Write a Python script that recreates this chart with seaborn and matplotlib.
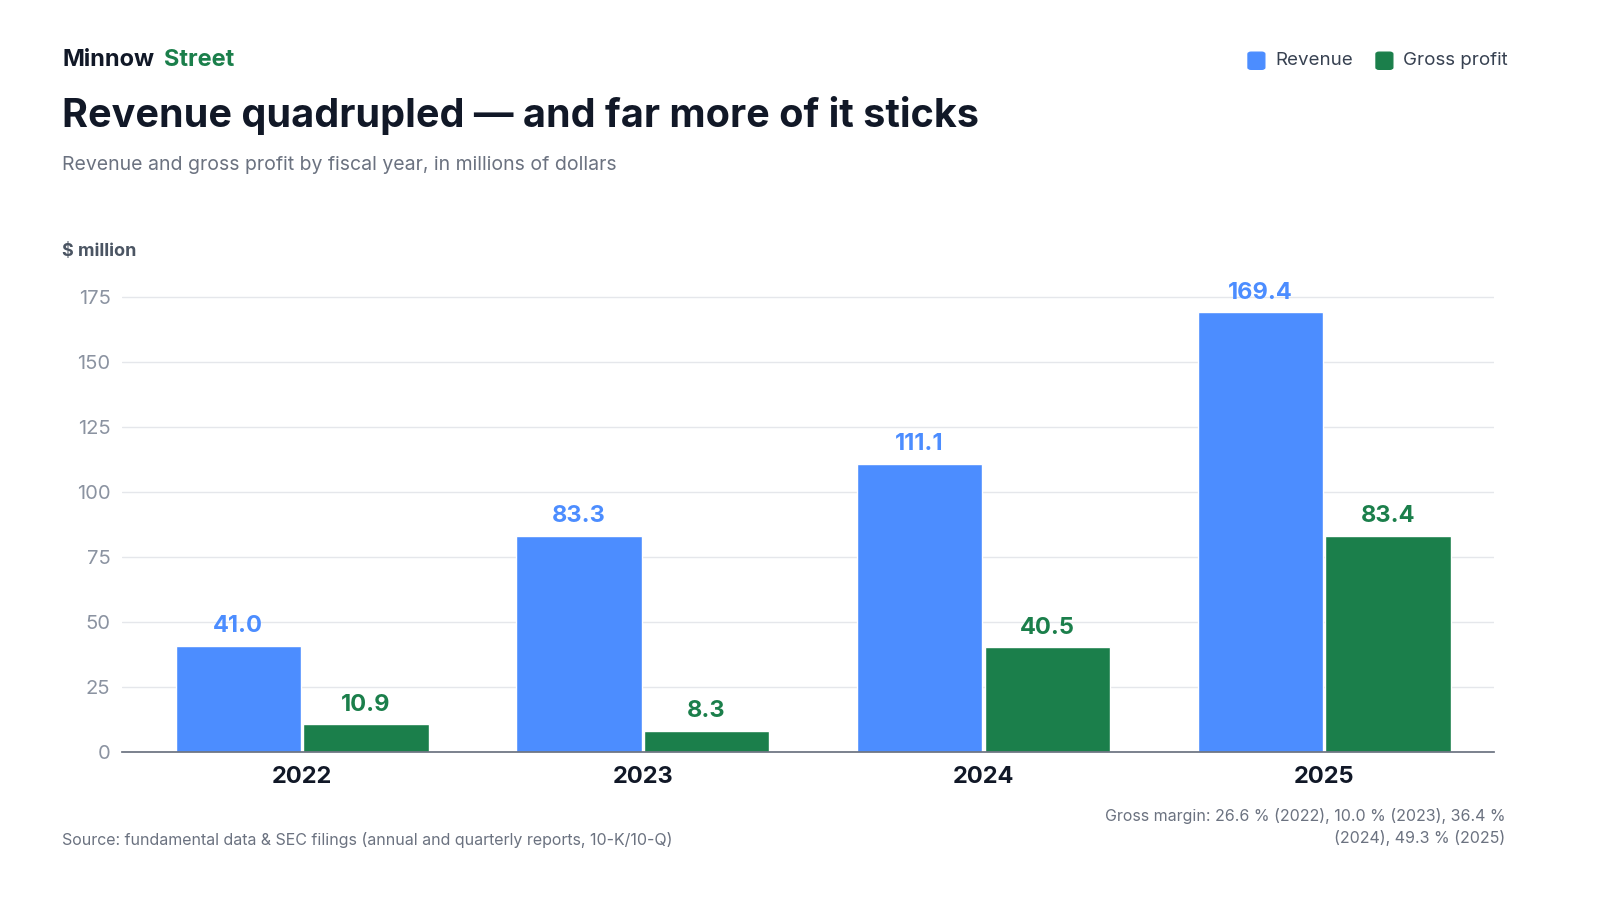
import matplotlib.pyplot as plt
import pandas as pd
import seaborn as sns
from matplotlib.patches import FancyBboxPatch

years = ["2022", "2023", "2024", "2025"]
revenue = [41.0, 83.3, 111.1, 169.4]
gross_profit = [10.9, 8.3, 40.5, 83.4]
margins = [26.6, 10.0, 36.4, 49.3]

BLUE = "#4C8DFF"
GREEN = "#1B7F4B"
DARK = "#111827"
GREY = "#6B7280"

df = pd.DataFrame({
    "year": years * 2,
    "value": revenue + gross_profit,
    "series": ["Revenue"] * 4 + ["Gross profit"] * 4,
})

sns.set_theme(style="white")
plt.rcParams["font.family"] = ["Inter", "DejaVu Sans"]

fig = plt.figure(figsize=(16, 9), dpi=100)
ax = fig.add_axes([0.076, 0.164, 0.858, 0.52])
sns.barplot(data=df, x="year", y="value", hue="series",
            palette={"Revenue": BLUE, "Gross profit": GREEN},
            width=0.75, gap=0.02, saturation=1, legend=False, ax=ax)

for cont, col in zip(ax.containers, [BLUE, GREEN]):
    ax.bar_label(cont, fmt="%.1f", padding=6, color=col,
                 fontsize=17, fontweight="bold")

ax.set_ylim(0, 180)
ax.set_xlim(-0.53, 3.5)
ax.set_yticks(range(0, 176, 25))
ax.grid(axis="y", color="#E5E7EB", lw=1)
ax.set_axisbelow(True)
for s in ["top", "right", "left"]:
    ax.spines[s].set_visible(False)
ax.spines["bottom"].set_color("#6B7280")
ax.tick_params(axis="y", labelsize=14.5, labelcolor="#8B93A1", length=0, pad=8)
ax.tick_params(axis="x", labelsize=17, length=0, pad=10)
for t in ax.get_xticklabels():
    t.set_fontweight("bold")
    t.set_color(DARK)
ax.set_xlabel("")
ax.set_ylabel("")

fig.text(0.039, 0.933, "Minnow", fontsize=17, fontweight="bold", color=DARK, va="center")
fig.text(0.1025, 0.933, "Street", fontsize=17, fontweight="bold", color=GREEN, va="center")
fig.text(0.039, 0.872, "Revenue quadrupled — and far more of it sticks",
         fontsize=28.5, fontweight="bold", color=DARK, va="center")
fig.text(0.039, 0.817, "Revenue and gross profit by fiscal year, in millions of dollars",
         fontsize=14, color=GREY, va="center")
fig.text(0.039, 0.72, "$ million", fontsize=13, fontweight="bold", color="#4B5563", va="center")

# legend
for x, lab, col in [(0.780, "Revenue", BLUE), (0.860, "Gross profit", GREEN)]:
    fig.patches.append(FancyBboxPatch((x, 0.923), 0.0105, 0.019,
                                      boxstyle="round,pad=0,rounding_size=0.002",
                                      transform=fig.transFigure, color=col))
    fig.text(x + 0.017, 0.933, lab, fontsize=13.5, color="#374151", va="center")

fig.text(0.039, 0.067, "Source: fundamental data & SEC filings (annual and quarterly reports, 10-K/10-Q)",
         fontsize=11.5, color=GREY, va="center")
m = [f"{v:.1f} % ({y})" for v, y in zip(margins, years)]
fig.text(0.941, 0.081, f"Gross margin: {m[0]}, {m[1]}, {m[2].split(' (')[0]}\n({years[2]}), {m[3]}",
         fontsize=11.5, color=GREY, ha="right", va="center", linespacing=1.5)

fig.savefig("out.png")
